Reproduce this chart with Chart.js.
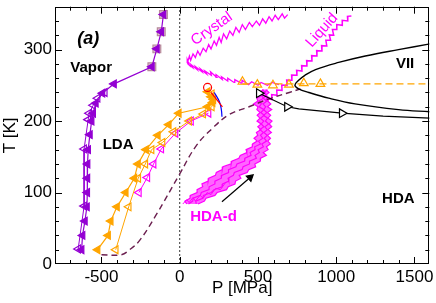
<!DOCTYPE html>
<html>
<head>
<meta charset="utf-8">
<script src="https://cdn.jsdelivr.net/npm/chart.js@4.4.0/dist/chart.umd.min.js"></script>
<style>
  body { margin: 0; background: #fff; }
  #wrap { width: 436px; height: 303px; }
</style>
</head>
<body>
<div id="wrap"><canvas id="phaseChart"></canvas></div>
<script>
// axes
const xTicks = [-500, 0, 500, 1000, 1500];
const yTicks = [0, 100, 200, 300];

// all points are [P (MPa), T (K)]
const purpleSquares = [[-104, 349], [-118, 325], [-146, 301], [-178, 276]];
const purpleFilled = [[-104, 349], [-118, 325], [-146, 301], [-178, 276], [-420, 252], [-494, 239], [-536, 225],
  [-553, 211], [-563, 200], [-574, 181], [-585, 160], [-589, 140], [-590, 120], [-591, 100], [-593, 80],
  [-606, 60], [-621, 40], [-627, 20]];
const purpleOpen = [[-479, 240], [-525, 232], [-553, 222], [-579, 211], [-585, 202], [-611, 161], [-611, 81], [-649, 21]];

const orangeFilled = [[-525, 20], [-458, 40], [-441, 60], [-401, 80], [-345, 100], [-290, 120], [-267, 140],
  [-215, 160], [-140, 180], [-70, 195], [-6, 211], [178, 220], [210, 226], [200, 234], [178, 241]];
const orangeOpen = [[-409, 20], [-326, 80], [-265, 120], [-220, 140], [-180, 160], [-110, 170], [-40, 185],
  [60, 200], [150, 210], [205, 220], [215, 230], [205, 238]];
const magentaTri = [[-261, 100], [-207, 121], [-167, 140], [-118, 161], [-27, 183], [72, 200], [184, 211]];

const redCircle = [[178, 247]];
const redLine = [[200, 240], [273, 220]];
const blueLine = [[221, 240], [254, 227], [266, 216], [270, 206]];

const meltTri = [[401, 255], [496, 251], [596, 250], [698, 251], [793, 253], [899, 252]];
const meltDash = [[401, 252], [1600, 252]];

const iceVII = [[1600, 308], [1398, 300], [1186, 291], [1016, 282], [868, 272], [800, 264], [760, 257], [736, 250],
  [760, 245], [825, 240], [952, 232], [1120, 224], [1398, 216], [1600, 213]];
const blackTri = [[507, 239], [687, 220], [761, 217], [1037, 211], [1300, 207], [1600, 204]];
const blackTriSize = [5, 5, 0, 5, 0, 0];

const spinodal = [[-500, 13], [-373, 13], [-320, 20], [-256, 33], [-150, 69], [0, 126], [104, 165], [210, 190],
  [316, 209], [443, 220], [570, 231], [700, 240], [772, 245]];

const crystal = [[690, 349], [670, 344], [655, 350], [630, 342], [610, 348], [590, 340], [571, 346], [550, 337],
  [530, 343], [510, 334], [490, 340], [464, 332], [445, 338], [420, 328], [400, 335], [380, 324], [359, 331],
  [340, 320], [320, 326], [300, 315], [280, 322], [265, 310], [252, 317], [235, 306], [220, 312], [200, 301],
  [185, 307], [168, 297], [150, 302], [130, 292], [115, 298], [100, 289], [85, 294], [70, 285], [62, 291],
  [50, 282], [48, 286], [62, 278], [48, 281], [82, 275], [72, 279], [112, 272], [102, 276], [142, 269],
  [132, 273], [172, 266], [162, 270], [202, 264], [197, 269], [237, 261], [232, 265], [272, 258], [267, 262],
  [307, 256], [307, 260], [347, 254], [352, 258], [392, 253], [398, 257], [440, 251], [460, 255], [500, 250],
  [520, 254], [560, 250], [590, 254], [634, 251]];
const liquid = [[1097, 347], [1072, 346.5], [1074, 340], [1038.5, 341], [1039, 334], [1003.5, 335], [1004, 328],
  [976, 328], [984, 320], [956, 320.5], [964, 313], [934, 313], [940, 305], [906.5, 305.5], [909, 298],
  [875, 298.5], [877, 291], [843, 291.5], [845, 284], [811, 284.5], [813, 277], [779, 277.5], [781, 270],
  [747, 271], [749, 264], [715, 264.5], [717, 257], [683.5, 257.5], [686, 250], [652, 250.5], [654, 243],
  [620, 243.5], [622, 236], [587.5, 237], [589, 230], [556, 231.5], [550, 227]];
const hdaA = [[535, 244], [510, 240], [525, 236], [493, 232], [499, 228], [472, 224], [501, 220], [493, 216],
  [514, 212], [495, 208], [513, 204], [494, 200], [520, 196], [499, 192], [518, 188], [490, 184], [499, 180],
  [475, 176], [495, 172], [466, 168], [464, 164], [424, 160], [429, 156], [387, 152], [378, 148], [333, 144],
  [329, 140], [276, 136], [272, 132], [234, 128], [228, 124], [186, 120], [182, 116], [142, 112], [147, 108],
  [111, 104], [111, 100], [68, 96], [66, 92], [33, 88], [45, 84]];
const hdaB = [[528, 244], [546, 240], [522, 236], [536, 232], [504, 228], [522, 224], [508, 220], [538, 216],
  [518, 212], [540, 208], [516, 204], [537, 200], [521, 196], [538, 192], [513, 188], [535, 184], [516, 180],
  [531, 176], [504, 172], [516, 168], [479, 164], [482, 160], [450, 156], [456, 152], [417, 148], [415, 144],
  [366, 140], [359, 136], [312, 132], [312, 128], [268, 124], [266, 120], [225, 116], [225, 112], [188, 108],
  [187, 104], [138, 100], [132, 96], [86, 92], [83, 88], [56, 84]];
const hdaC = [[561, 244], [541, 240], [555, 236], [532, 232], [558, 228], [532, 224], [550, 220], [536, 216],
  [557, 212], [536, 208], [562, 204], [547, 200], [568, 196], [544, 192], [560, 188], [538, 184], [559, 180],
  [540, 176], [555, 172], [525, 168], [535, 164], [501, 160], [509, 156], [481, 152], [490, 148], [446, 144],
  [446, 140], [405, 136], [399, 132], [349, 128], [343, 124], [309, 120], [314, 116], [274, 112], [271, 108],
  [219, 104], [202, 100], [152, 96], [147, 92], [102, 88], [106, 84]];
const hdaD = [[550, 244], [571, 240], [549, 236], [575, 232], [562, 228], [582, 224], [561, 220], [588, 216],
  [561, 212], [581, 208], [564, 204], [590, 200], [572, 196], [588, 192], [565, 188], [586, 184], [561, 180],
  [580, 176], [563, 172], [579, 168], [554, 164], [565, 160], [534, 156], [554, 152], [517, 148], [515, 144],
  [480, 140], [485, 136], [441, 132], [431, 128], [380, 124], [391, 120], [357, 116], [353, 112], [310, 108],
  [299, 104], [239, 100], [225, 96], [168, 92], [158, 88], [117, 84]];
const hdaTail = [[20, 84], [45, 90], [60, 86], [85, 93], [100, 88], [130, 96], [150, 92], [175, 100], [200, 97],
  [230, 106], [260, 104], [290, 113]];
// closed outline of the HDA-d band: left edge down, right edge back up
const hdaBand = hdaA.concat(hdaD.slice().reverse());

const arrow = [[270, 87], [450, 121]];
const zeroLine = [[0, 0], [0, 360]];

const labels = [
  { text: '(a)', p: -585, t: 315, font: 'italic bold 18px', color: '#000', rot: 0 },
  { text: 'Vapor', p: -566, t: 274, font: 'bold 15px', color: '#000', rot: 0 },
  { text: 'LDA', p: -394, t: 167, font: 'bold 15px', color: '#000', rot: 0 },
  { text: 'VII', p: 1440, t: 280, font: 'bold 15px', color: '#000', rot: 0 },
  { text: 'HDA', p: 1397, t: 91, font: 'bold 15px', color: '#000', rot: 0 },
  { text: 'HDA-d', p: 216, t: 66, font: 'bold 15px', color: '#ff00ff', rot: 0 },
  { text: 'Crystal', p: 205, t: 329, font: '15px', color: '#ff00ff', rot: -35 },
  { text: 'Liquid', p: 909, t: 327, font: '15px', color: '#ff00ff', rot: -48 }
];

const FONT = '"Liberation Sans", Arial, sans-serif';

function series(data, o) {
  return Object.assign({
    data: data.map(([x, y]) => ({ x, y })),
    showLine: true, fill: false, pointRadius: 0, borderWidth: 1
  }, o);
}
function marks(data, color, style, rot, filled, r, o) {
  return series(data, Object.assign({
    showLine: false, pointStyle: style, pointRotation: rot, pointRadius: r,
    pointBorderColor: color, pointBackgroundColor: filled ? color : 'rgba(0,0,0,0)',
    pointBorderWidth: 1.2, borderColor: color
  }, o));
}

const frame = {
  id: 'frame',
  afterDraw(chart) {
    const { ctx, chartArea: a, scales: { x, y } } = chart;
    ctx.save();
    ctx.strokeStyle = '#000';
    ctx.lineWidth = 1;
    const seg = (x1, y1, x2, y2) => { ctx.beginPath(); ctx.moveTo(x1, y1); ctx.lineTo(x2, y2); ctx.stroke(); };
    for (let v = -700; v <= 1500; v += 100) {
      const px = Math.round(x.getPixelForValue(v)) + 0.5;
      const len = v % 500 === 0 ? 7 : 4;
      seg(px, a.bottom, px, a.bottom - len);
      seg(px, a.top, px, a.top + len);
    }
    for (let v = 20; v <= 340; v += 20) {
      const py = Math.round(y.getPixelForValue(v)) + 0.5;
      const len = v % 100 === 0 ? 7 : 4;
      seg(a.left, py, a.left + len, py);
      seg(a.right, py, a.right - len, py);
    }
    ctx.strokeRect(Math.round(a.left) + 0.5, Math.round(a.top) + 0.5,
      Math.round(a.right - a.left) - 1, Math.round(a.bottom - a.top) - 1);

    ctx.textAlign = 'center';
    ctx.textBaseline = 'middle';
    labels.forEach(l => {
      ctx.save();
      ctx.translate(x.getPixelForValue(l.p), y.getPixelForValue(l.t));
      ctx.rotate(l.rot * Math.PI / 180);
      ctx.font = l.font + ' ' + FONT;
      ctx.fillStyle = l.color;
      ctx.fillText(l.text, 0, 0);
      ctx.restore();
    });
    ctx.restore();
  }
};

const MAG = '#ff00ff', ORA = '#ffa500', PUR = '#9400d3';

new Chart(document.getElementById('phaseChart'), {
  type: 'scatter',
  data: {
    datasets: [
      series(arrow, { borderColor: '#000', borderWidth: 1.2, pointRadius: [0, 4], pointStyle: 'triangle',
        pointRotation: 49, pointBackgroundColor: '#000', pointBorderColor: '#000' }),
      marks(redCircle, '#ff0000', 'circle', 0, false, 4),
      series(redLine, { borderColor: '#ff0000', borderWidth: 1.2 }),
      series(blueLine, { borderColor: '#0000ff', borderWidth: 1.2, tension: 0.4 }),
      marks(purpleFilled, PUR, 'triangle', -90, true, 4.5, { showLine: true, borderWidth: 1.2 }),
      marks(purpleOpen, PUR, 'triangle', -90, false, 4.5, { showLine: true, borderWidth: 1 }),
      marks(purpleSquares, '#b88a9c', 'rect', 0, true, 5.5, { pointBackgroundColor: '#dcc3d0' }),
      marks(orangeFilled, ORA, 'triangle', -90, true, 4.5, { showLine: true, borderWidth: 1.2 }),
      marks(orangeOpen, ORA, 'triangle', -90, false, 4.5, { showLine: true, borderWidth: 1 }),
      marks(magentaTri, MAG, 'triangle', -90, false, 4.5, { showLine: true, borderWidth: 1 }),
      marks(meltTri, ORA, 'triangle', 0, false, 5),
      series(meltDash, { borderColor: ORA, borderWidth: 1.3, borderDash: [7, 4] }),
      marks(blackTri, '#000', 'triangle', 90, false, 5, { showLine: true, borderWidth: 1.2,
        pointRadius: blackTriSize, pointBackgroundColor: '#fff' }),
      series(iceVII, { borderColor: '#000', borderWidth: 1.4, tension: 0.4 }),
      series(spinodal, { borderColor: '#6b1f4f', borderWidth: 1.4, borderDash: [6, 4], tension: 0.4 }),
      series(crystal, { borderColor: MAG, borderWidth: 1.3 }),
      series(liquid, { borderColor: MAG, borderWidth: 1.5 }),
      series(hdaA, { borderColor: MAG, borderWidth: 1.2 }),
      series(hdaB, { borderColor: MAG, borderWidth: 1.2 }),
      series(hdaC, { borderColor: MAG, borderWidth: 1.2 }),
      series(hdaD, { borderColor: MAG, borderWidth: 1.2 }),
      series(hdaTail, { borderColor: MAG, borderWidth: 1 }),
      series(hdaBand, { borderColor: 'rgba(0,0,0,0)', borderWidth: 0, fill: 'shape',
        backgroundColor: 'rgba(255,0,255,0.6)' }),
      series(zeroLine, { borderColor: '#333', borderWidth: 1, borderDash: [2, 2] })
    ]
  },
  options: {
    responsive: true,
    maintainAspectRatio: false,
    animation: false,
    events: [],
    layout: { padding: { top: 1, right: 5, left: 0, bottom: 0 } },
    plugins: { legend: { display: false }, tooltip: { enabled: false } },
    scales: {
      x: {
        type: 'linear', min: -797, max: 1595,
        afterBuildTicks: s => { s.ticks = xTicks.map(v => ({ value: v })); },
        afterFit: s => { s.height = 39; s.paddingLeft = 0; s.paddingRight = 0; },
        grid: { display: false, drawTicks: false },
        border: { display: false },
        ticks: { color: '#000', padding: 3, font: { family: FONT, size: 17 }, maxRotation: 0,
          callback: v => String(v) },
        title: { display: true, text: 'P [MPa]', color: '#000', font: { family: FONT, size: 17 },
          padding: { top: 0, bottom: 4 } }
      },
      y: {
        type: 'linear', min: 0, max: 360,
        afterBuildTicks: s => { s.ticks = yTicks.map(v => ({ value: v })); },
        afterFit: s => { s.width = 55; s.paddingTop = 0; s.paddingBottom = 0; },
        grid: { display: false, drawTicks: false },
        border: { display: false },
        ticks: { color: '#000', padding: 3, font: { family: FONT, size: 17 }, callback: v => String(v) },
        title: { display: true, text: 'T [K]', color: '#000', font: { family: FONT, size: 17 },
          padding: { top: 0, bottom: 0 } }
      }
    }
  },
  plugins: [frame]
});
</script>
</body>
</html>
